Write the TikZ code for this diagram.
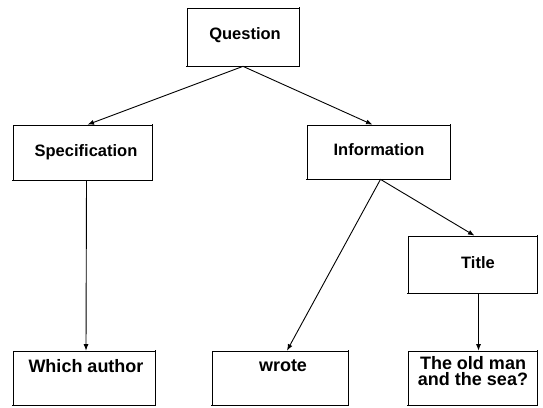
\documentclass[tikz,border=0pt]{standalone}
\usepackage{fontspec}
\setmainfont{Liberation Sans}
\usetikzlibrary{arrows.meta,calc}
\begin{document}
\begin{tikzpicture}[x=1pt,y=-1pt,
  box/.style={draw=black, line width=0.7pt, inner sep=0pt},
  shade/.style={draw=black, line width=1.4pt, line cap=rect},
  txt/.style={font=\fontsize{16.5}{16.5}\selectfont\bfseries, align=center, inner sep=0pt},
  bigtxt/.style={font=\fontsize{18}{16.5}\selectfont\bfseries, align=center, inner sep=0pt},
  link/.style={draw=black, line width=0.9pt, -{Latex[length=6.5pt,width=5pt]}}]
  \useasboundingbox (0,0) rectangle (543,407);

  % boxes
  \node[box, minimum width=112pt, minimum height=58pt] (q)     at (243,37)    {};
  \node[box, minimum width=139pt, minimum height=55pt] (spec)  at (82.5,152.5) {};
  \node[box, minimum width=143pt, minimum height=54pt] (info)  at (378.5,152) {};
  \node[box, minimum width=129pt, minimum height=57pt] (title) at (472.5,264.5) {};
  \node[box, minimum width=142pt, minimum height=54pt] (which) at (84,378)    {};
  \node[box, minimum width=136pt, minimum height=54pt] (wrote) at (280,378)   {};
  \node[box, minimum width=129pt, minimum height=54pt] (sea)   at (472.5,378) {};

  % heavier lower and right edges
  \foreach \b in {q,spec,info,title,which,wrote,sea}
    \draw[shade] (\b.north east) -- (\b.south east) -- (\b.south west);

  % labels
  \node[txt] (tq)     at (245,35)  {Question};
  \node[txt] (tspec)  at (86,152)  {Specification};
  \node[txt] (tinfo)  at (379,150) {Information};
  \node[txt] (ttitle) at (478,263) {Title};
  \node[bigtxt] (twhich) at (86,366)  {Which author};
  \node[bigtxt] (twrote) at (283,366) {wrote};
  \node[bigtxt] (tsea)   at (473,371) {The old man\\and the sea?};

  % connectors
  \draw[link] (q.south) -- ([xshift=5pt]spec.north);
  \draw[link] (q.south) -- ([xshift=-6pt]info.north);
  \draw[link] ([xshift=4pt]spec.south) -- ([xshift=2pt]which.north);
  \draw[link] ([xshift=2pt]info.south) -- ([xshift=7pt]wrote.north);
  \draw[link] ([xshift=2pt]info.south) -- ([xshift=2pt]title.north);
  \draw[link] ([xshift=6pt]title.south) -- ([xshift=6pt]sea.north);
\end{tikzpicture}
\end{document}
